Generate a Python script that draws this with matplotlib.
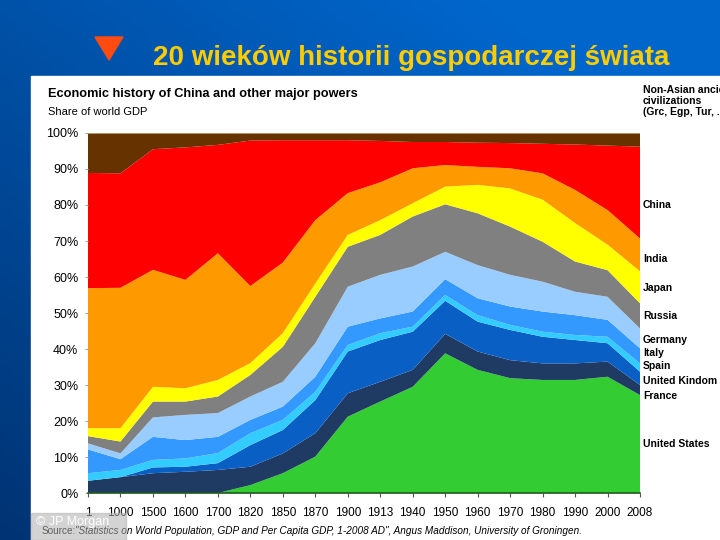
import matplotlib.pyplot as plt
import numpy as np
from matplotlib.patches import Polygon, Rectangle

# x axis is categorical: equal spacing between the listed years
years = ['1', '1000', '1500', '1600', '1700', '1820', '1850', '1870', '1900', '1913',
         '1940', '1950', '1960', '1970', '1980', '1990', '2000', '2008']

# share of world GDP, % (bottom layer first)
us = [0, 0, 0, 0, 0, 2.2, 5.5, 10.1, 21.2, 25.4, 29.5, 38.8, 34.2, 31.9, 31.4, 31.4, 32.3, 27.2]
france = [3.4, 4.4, 5.5, 5.9, 6.4, 5.1, 5.5, 6.5, 6.5, 5.5, 4.7, 5.4, 5.1, 5.0, 4.6, 4.6, 4.2, 2.8]
uk = [0, 0, 1.6, 1.4, 1.9, 6.0, 6.5, 9.2, 11.6, 11.6, 10.6, 9.2, 8.3, 8.4, 7.4, 6.5, 5.1, 3.7]
spain = [2.1, 2.0, 2.1, 2.3, 2.8, 3.3, 2.8, 2.3, 1.8, 1.9, 1.4, 1.6, 1.8, 1.4, 1.4, 1.4, 1.8, 2.3]
italy = [6.6, 3.0, 6.4, 5.1, 4.5, 3.7, 3.7, 4.2, 5.1, 4.1, 4.2, 4.4, 4.7, 5.1, 5.6, 5.5, 4.7, 4.2]
germany = [1.7, 1.6, 5.4, 7.0, 6.6, 6.5, 6.9, 9.3, 11.1, 12.1, 12.5, 7.6, 9.2, 8.8, 8.3, 6.5, 6.4, 5.5]
russia = [2.0, 3.3, 4.4, 3.7, 4.6, 6.0, 9.7, 12.9, 11.1, 11.1, 13.9, 13.2, 14.4, 13.4, 11.1, 8.4, 7.4, 7.0]
japan = [2.2, 3.7, 4.1, 3.7, 4.6, 3.3, 3.8, 3.7, 3.3, 4.1, 3.7, 4.9, 7.9, 10.6, 11.7, 10.7, 7.1, 8.9]
india = [38.9, 39.0, 32.5, 30.1, 35.2, 21.4, 19.6, 17.6, 11.6, 10.5, 9.7, 6.0, 5.0, 5.6, 7.3, 9.2, 9.6, 9.1]
china = [32.0, 31.8, 33.5, 36.8, 30.1, 40.4, 34.0, 22.2, 14.7, 11.5, 7.3, 6.4, 6.7, 7.0, 8.2, 12.6, 17.9, 25.5]
ancient = [11.1, 11.2, 4.5, 4.0, 3.3, 2.1, 2.0, 2.0, 2.0, 2.2, 2.5, 2.5, 2.7, 2.8, 3.0, 3.2, 3.5, 3.8]

colors = ['#33cc33', '#1f3a63', '#0a5fc4', '#33ccff', '#3399ff', '#99ccff',
          '#808080', '#ffff00', '#ff9900', '#ff0000', '#663300']

# right-hand labels and their pixel y positions
side_labels = [('Non-Asian ancient\ncivilizations\n(Grc, Egp, Tur, ...)', 101),
               ('China', 205), ('India', 259), ('Japan', 288), ('Russia', 316),
               ('Germany', 340), ('Italy', 353), ('Spain', 366),
               ('United Kindom', 381), ('France', 396), ('United States', 444)]

W, H = 720, 540
sans = ['Liberation Sans', 'DejaVu Sans']


def px(x, y):
    return x / W, 1 - y / H


def draw_slide(fig):
    # blue slide background with a slightly darker lower-left
    bg = fig.add_axes([0, 0, 1, 1], zorder=-10)
    gx, gy = np.meshgrid(np.linspace(0, 1, 200), np.linspace(0, 1, 150))
    shade = np.clip(0.6 * gy + 0.6 * gx, 0, 1)
    top = np.array([0.0, 0.40, 0.80])
    low = np.array([0.0, 0.20, 0.45])
    img = low + (top - low) * shade[..., None]
    bg.imshow(img, extent=[0, 1, 0, 1], aspect='auto', origin='lower')
    bg.set_axis_off()

    # white panel of the pasted chart
    x0, y0 = px(31, 540)
    fig.patches.append(Rectangle((x0, y0), 1 - x0, 1 - 76 / H - y0,
                                 transform=fig.transFigure, color='white', zorder=-5))

    # slide bullet and heading
    tri = Polygon([px(95, 37), px(123, 37), px(109, 60)], closed=True,
                  transform=fig.transFigure, color='#ff4a10')
    fig.patches.append(tri)
    fig.text(*px(153, 58), '20 wieków historii gospodarczej świata', color='#ffcc00',
             fontsize=20, fontweight='bold', family=sans, va='center', ha='left')


def main():
    fig = plt.figure(figsize=(7.2, 5.4), dpi=100)
    draw_slide(fig)

    l, b = px(88, 493)
    r, t = px(640, 133)
    ax = fig.add_axes([l, b, r - l, t - b])
    xs = np.arange(len(years))
    layers = [us, france, uk, spain, italy, germany, russia, japan, india, china, ancient]
    ax.stackplot(xs, layers, colors=colors, linewidth=0)

    ax.set_xlim(0, len(years) - 1)
    ax.set_ylim(0, 100)
    ax.set_xticks(xs)
    ax.set_xticklabels(years, family=sans, fontsize=8.5)
    ax.set_yticks(range(0, 101, 10))
    ax.set_yticklabels([f'{v}%' for v in range(0, 101, 10)], family=sans, fontsize=9)
    ax.tick_params(axis='x', length=3, color='#555555', pad=7)
    ax.tick_params(axis='y', length=2, color='#aaaaaa', pad=5)
    for side in ['top', 'right', 'left']:
        ax.spines[side].set_visible(False)
    ax.spines['bottom'].set_color('#1e5a1e')
    ax.spines['bottom'].set_linewidth(1.2)
    ax.axhline(100, color='#c8a878', linewidth=1.2)

    fig.text(*px(48, 94), 'Economic history of China and other major powers',
             family=sans, fontsize=9.2, fontweight='bold', va='center')
    fig.text(*px(48, 112), 'Share of world GDP', family=sans, fontsize=8, va='center')

    for text, y in side_labels:
        fig.text(*px(643, y), text, family=sans, fontsize=7.5, fontweight='bold',
                 va='center', ha='left', linespacing=1.15)

    fig.text(*px(42, 531), 'Source:', family=sans, fontsize=7.2, va='center')
    fig.text(*px(75, 531), '"Statistics on World Population, GDP and Per Capita GDP, '
             '1-2008 AD", Angus Maddison, University of Groningen.',
             family=sans, fontsize=7.2, style='italic', va='center')

    # watermark box at bottom left
    wx, wy = px(31, 540)
    fig.patches.append(Rectangle((wx, wy), 95 / W, 27 / H, transform=fig.transFigure,
                                 color='#b0b0b0', alpha=0.55, zorder=5))
    fig.text(*px(36, 522), '© JP Morgan', color='white', family=sans, fontsize=9,
             va='center', zorder=6)

    fig.savefig('out.png', dpi=100)


if __name__ == "__main__":
    main()
